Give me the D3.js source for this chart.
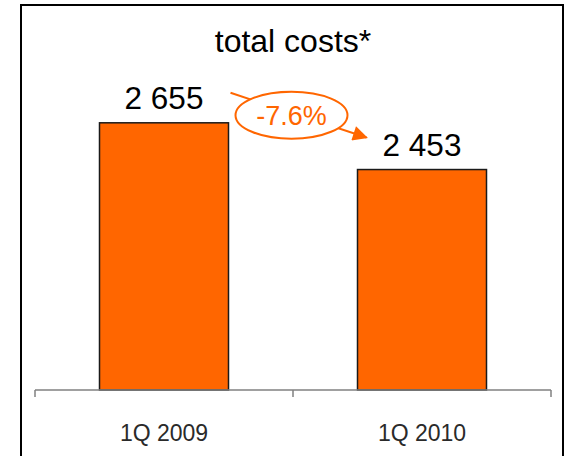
<!DOCTYPE html>
<html>
<head>
<meta charset="utf-8">
<script src="https://cdn.jsdelivr.net/npm/d3@7"></script>
<style>
  html, body { margin: 0; padding: 0; background: #fff; }
  svg { display: block; font-family: "Liberation Sans", Arial, Helvetica, sans-serif; }
</style>
</head>
<body>
<svg id="chart" width="564" height="456"></svg>
<script>
// Quarterly totals
const categories = ["1Q 2009", "1Q 2010"];
const values = [2655, 2453];
const valueLabels = ["2 655", "2 453"];
const changeLabel = "-7.6%";
const title = "total costs*";

const orange = "#ff6600";
const svg = d3.select("#chart");

// Outer frame
svg.append("rect")
  .attr("x", 21).attr("y", 5)
  .attr("width", 542).attr("height", 470)
  .attr("fill", "#fff")
  .attr("stroke", "#000").attr("stroke-width", 2);

const x = d3.scaleBand()
  .domain(categories)
  .range([35, 551])
  .paddingInner(0.5)
  .paddingOuter(0.25);

// Value axis starts above zero
const y = d3.scaleLinear()
  .domain([1500, 3000])
  .range([390, 43]);

// Title
svg.append("text")
  .attr("x", 293).attr("y", 52)
  .attr("text-anchor", "middle")
  .attr("font-size", 32)
  .attr("fill", "#000")
  .text(title);

// Bars
svg.selectAll("rect.bar")
  .data(values)
  .join("rect")
  .attr("class", "bar")
  .attr("x", (d, i) => x(categories[i]))
  .attr("y", d => y(d))
  .attr("width", x.bandwidth())
  .attr("height", d => y.range()[0] - y(d))
  .attr("fill", orange)
  .attr("stroke", "#1a1a1a")
  .attr("stroke-width", 1.5);

// Value labels
svg.selectAll("text.val")
  .data(values)
  .join("text")
  .attr("class", "val")
  .attr("x", (d, i) => x(categories[i]) + x.bandwidth() / 2)
  .attr("y", d => y(d) - 14)
  .attr("text-anchor", "middle")
  .attr("font-size", 31.5)
  .attr("fill", "#000")
  .text((d, i) => valueLabels[i]);

// Category axis
const axisG = svg.append("g").attr("transform", `translate(0,${y.range()[0]})`);
axisG.append("line")
  .attr("x1", 35).attr("x2", 551)
  .attr("stroke", "#808080").attr("stroke-width", 1.5);
const tickXs = [35, (x(categories[0]) + x.bandwidth() + x(categories[1])) / 2, 551];
axisG.selectAll("line.tick")
  .data(tickXs)
  .join("line")
  .attr("class", "tick")
  .attr("x1", d => d).attr("x2", d => d)
  .attr("y1", 0).attr("y2", 7)
  .attr("stroke", "#808080").attr("stroke-width", 1.5);
axisG.selectAll("text.cat")
  .data(categories)
  .join("text")
  .attr("class", "cat")
  .attr("x", d => x(d) + x.bandwidth() / 2)
  .attr("y", 51)
  .attr("text-anchor", "middle")
  .attr("font-size", 23)
  .attr("fill", "#2a2a2a")
  .text(d => d);

// Change annotation: arrow from first to second bar with an oval label
const defs = svg.append("defs");
defs.append("marker")
  .attr("id", "arrow")
  .attr("viewBox", "0 0 10 10")
  .attr("refX", 9).attr("refY", 5)
  .attr("markerWidth", 8).attr("markerHeight", 7.5)
  .attr("markerUnits", "strokeWidth")
  .attr("orient", "auto")
  .append("path")
  .attr("d", "M0,0 L10,5 L0,10 Z")
  .attr("fill", orange);

const x0 = x(categories[0]) + x.bandwidth() + 2;
const y0 = y(values[0]) - 30;
const x1 = x(categories[1]) + 9;
const y1 = y(values[1]) - 32;
svg.append("line")
  .attr("x1", x0).attr("y1", y0)
  .attr("x2", x1).attr("y2", y1)
  .attr("stroke", orange).attr("stroke-width", 2)
  .attr("marker-end", "url(#arrow)");

const cx = (x0 + x1) / 2 - 7;
const cy = (y0 + y1) / 2;
svg.append("ellipse")
  .attr("cx", cx).attr("cy", cy)
  .attr("rx", 56).attr("ry", 23.5)
  .attr("fill", "#fff")
  .attr("stroke", orange).attr("stroke-width", 2);
svg.append("text")
  .attr("x", cx).attr("y", cy + 9.5)
  .attr("text-anchor", "middle")
  .attr("font-size", 27)
  .attr("fill", orange)
  .text(changeLabel);
</script>
</body>
</html>
